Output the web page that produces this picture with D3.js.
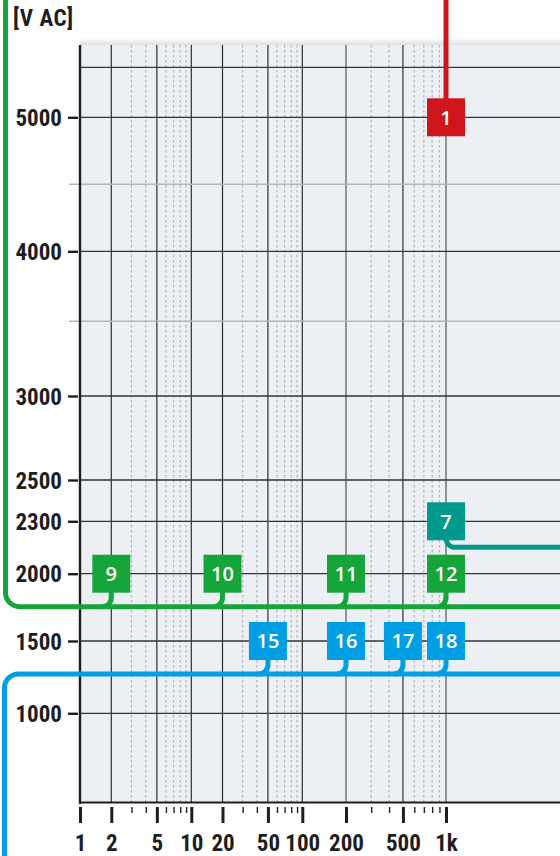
<!DOCTYPE html>
<html>
<head>
<meta charset="utf-8">
<script src="https://cdn.jsdelivr.net/npm/d3@7"></script>
<style>
  html, body { margin: 0; padding: 0; background: #fff; }
  svg { display: block; }
  .lbl { font-family: "Liberation Sans Narrow", "Roboto Condensed", "DejaVu Sans Condensed", sans-serif; font-weight: bold; font-size: 23px; fill: #1e1e1e; }
  .badge-text { font-family: "Open Sans", "Noto Sans", sans-serif; font-weight: 600; font-size: 20px; fill: #fff; }
</style>
</head>
<body>
<svg id="chart" width="560" height="856"></svg>
<script>
// Frequency axis (Hz)
const xMajor = [1, 2, 5, 10, 20, 50, 100, 200, 500, 1000];
const xLabels = ["1", "2", "5", "10", "20", "50", "100", "200", "500", "1k"];
const xMinor = [3, 4, 6, 7, 8, 9, 30, 40, 60, 70, 80, 90, 300, 400, 600, 700, 800, 900];
const xLightMajor = [200, 1000];

// Voltage axis (V AC)
const yTicks = [1000, 1500, 2000, 2300, 2500, 3000, 4000, 5000];
const yMinor = [3500, 4500];
const yTopLine = [5500];
const yUnit = "[V AC]";

// Numbered markers
const badgeIds   = [1, 7, 9, 10, 11, 12, 15, 16, 17, 18];
const badgeFreq  = [1000, 1000, 2, 20, 200, 1000, 50, 200, 500, 1000];
const badgeVolt  = [5000, 2300, 2000, 2000, 2000, 2000, 1500, 1500, 1500, 1500];
const badgeGroup = ["red", "teal", "green", "green", "green", "green", "blue", "blue", "blue", "blue"];

const colors = { red: "#cf161d", teal: "#00998c", green: "#16a53a", blue: "#009fe3" };

const W = 560, H = 856;
const plot = { left: 80, right: 560, top: 45, bottom: 803 };

// Piecewise log frequency scale and piecewise linear voltage scale
const x = d3.scaleLog()
  .domain([1, 2, 10, 20, 100, 200, 1000, 10000])
  .range([80, 111.3, 191.3, 222.5, 302.3, 346, 446, 590]);
const y = d3.scaleLinear()
  .domain([1000, 1500, 2000, 2300, 2500, 3000, 3500, 4000, 4500, 5000, 5500])
  .range([713.3, 641, 573.7, 521.3, 480, 396, 321.3, 251.3, 184.3, 117.3, 67.3]);

const svg = d3.select("#chart");
const defs = svg.append("defs");
const grad = defs.append("linearGradient").attr("id", "topShade").attr("x1", 0).attr("y1", 0).attr("x2", 0).attr("y2", 1);
grad.append("stop").attr("offset", "0%").attr("stop-color", "#ffffff");
grad.append("stop").attr("offset", "100%").attr("stop-color", "#dcdfe2");

// Plot background with a soft top edge
svg.append("rect").attr("x", plot.left).attr("y", plot.top - 7).attr("width", plot.right - plot.left).attr("height", 7)
  .attr("fill", "url(#topShade)");
svg.append("rect").attr("x", plot.left).attr("y", plot.top).attr("width", plot.right - plot.left).attr("height", plot.bottom - plot.top)
  .attr("fill", "#ecf0f4");

const grid = svg.append("g");

// Dotted minor frequency lines
grid.selectAll("line.minor").data(xMinor).join("line")
  .attr("x1", d => x(d)).attr("x2", d => x(d))
  .attr("y1", plot.top).attr("y2", plot.bottom)
  .attr("stroke", "#b0b4b8").attr("stroke-width", 1.2).attr("stroke-dasharray", "2.5,2.5");

// Major frequency lines
grid.selectAll("line.major").data(xMajor.slice(1)).join("line")
  .attr("x1", d => x(d)).attr("x2", d => x(d))
  .attr("y1", plot.top).attr("y2", plot.bottom)
  .attr("stroke", d => xLightMajor.includes(d) ? "#85898c" : "#2e2e2e")
  .attr("stroke-width", d => xLightMajor.includes(d) ? 1.8 : 1.2);

// Horizontal voltage lines
grid.selectAll("line.hmin").data(yMinor).join("line")
  .attr("x1", 69).attr("x2", plot.right)
  .attr("y1", d => y(d)).attr("y2", d => y(d))
  .attr("stroke", "#b4b7ba").attr("stroke-width", 1.6);
grid.selectAll("line.hmaj").data(yTicks.concat(yTopLine)).join("line")
  .attr("x1", plot.left).attr("x2", plot.right)
  .attr("y1", d => y(d)).attr("y2", d => y(d))
  .attr("stroke", "#353535").attr("stroke-width", 1.3);

// Axis lines
svg.append("line").attr("x1", plot.left).attr("x2", plot.left).attr("y1", plot.top).attr("y2", plot.bottom + 1)
  .attr("stroke", "#1e1e1e").attr("stroke-width", 2.4);
svg.append("line").attr("x1", plot.left - 1).attr("x2", plot.right).attr("y1", plot.bottom - 0.5).attr("y2", plot.bottom - 0.5)
  .attr("stroke", "#1e1e1e").attr("stroke-width", 2.2);

// Y axis
const yAxis = svg.append("g").attr("transform", "translate(78,0)")
  .call(d3.axisLeft(y).tickValues(yTicks).tickSize(10).tickPadding(6).tickFormat(d3.format("d")));
yAxis.select(".domain").remove();
yAxis.selectAll(".tick line").attr("stroke", "#1e1e1e").attr("stroke-width", 2.4);
yAxis.selectAll(".tick text").attr("class", "lbl").attr("dy", "0.36em").attr("font-size", null).attr("font-family", null);

// X axis, minor ticks then labelled ticks
const xMinorAxis = svg.append("g").attr("transform", `translate(0,${plot.bottom + 4})`)
  .call(d3.axisBottom(x).tickValues(xMinor).tickSize(6).tickFormat(""));
xMinorAxis.select(".domain").remove();
xMinorAxis.selectAll(".tick line").attr("stroke", "#1e1e1e").attr("stroke-width", 1.4);

const xAxis = svg.append("g").attr("transform", `translate(0,${plot.bottom + 4})`)
  .call(d3.axisBottom(x).tickValues(xMajor).tickSize(16).tickFormat((d, i) => xLabels[i]));
xAxis.select(".domain").remove();
xAxis.selectAll(".tick line").attr("stroke", "#1e1e1e").attr("stroke-width", 3);
xAxis.selectAll(".tick text").attr("class", "lbl").attr("y", 44).attr("dy", 0)
  .attr("font-size", null).attr("font-family", null);

// Unit label
svg.append("text").attr("class", "lbl").attr("x", 13).attr("y", 26).attr("letter-spacing", "0.6px").text(yUnit);

// Connector lines
const badges = badgeIds.map((id, i) => ({ id, f: badgeFreq[i], v: badgeVolt[i], g: badgeGroup[i] }));
const half = 19;
const conn = svg.append("g").attr("fill", "none").attr("stroke-width", 5);

const greenBus = y(2000) + 33;
const blueBus = y(1500) + 33;
const tealBus = y(2300) + 26;
const R = 14, r = 9;

conn.append("path").attr("stroke", colors.green)
  .attr("d", `M5.5,0 V${greenBus - R} A${R},${R} 0 0 0 ${5.5 + R},${greenBus} H${W}`);
conn.append("path").attr("stroke", colors.blue)
  .attr("d", `M${W},${blueBus} H${4.5 + R} A${R},${R} 0 0 0 4.5,${blueBus + R} V${H}`);

badges.forEach(b => {
  const cx = x(b.f), cy = y(b.v);
  if (b.g === "green" || b.g === "blue") {
    const bus = b.g === "green" ? greenBus : blueBus;
    conn.append("path").attr("stroke", colors[b.g])
      .attr("d", `M${cx},${cy} V${bus - r} A${r},${r} 0 0 1 ${cx - r},${bus}`);
  } else if (b.g === "teal") {
    conn.append("path").attr("stroke", colors.teal)
      .attr("d", `M${cx},${cy} V${tealBus - r} A${r},${r} 0 0 0 ${cx + r},${tealBus} H${W}`);
  } else if (b.g === "red") {
    conn.append("path").attr("stroke", colors.red)
      .attr("d", `M${cx},0 V${cy}`);
  }
});

// Marker badges
const bg = svg.append("g").selectAll("g").data(badges).join("g")
  .attr("transform", d => `translate(${x(d.f)},${y(d.v)})`);
bg.append("rect").attr("x", -half).attr("y", -half).attr("width", 2 * half).attr("height", 2 * half)
  .attr("fill", d => colors[d.g]);
bg.append("text").attr("class", "badge-text").attr("text-anchor", "middle").attr("dy", "0.36em")
  .text(d => d.id);
</script>
</body>
</html>
